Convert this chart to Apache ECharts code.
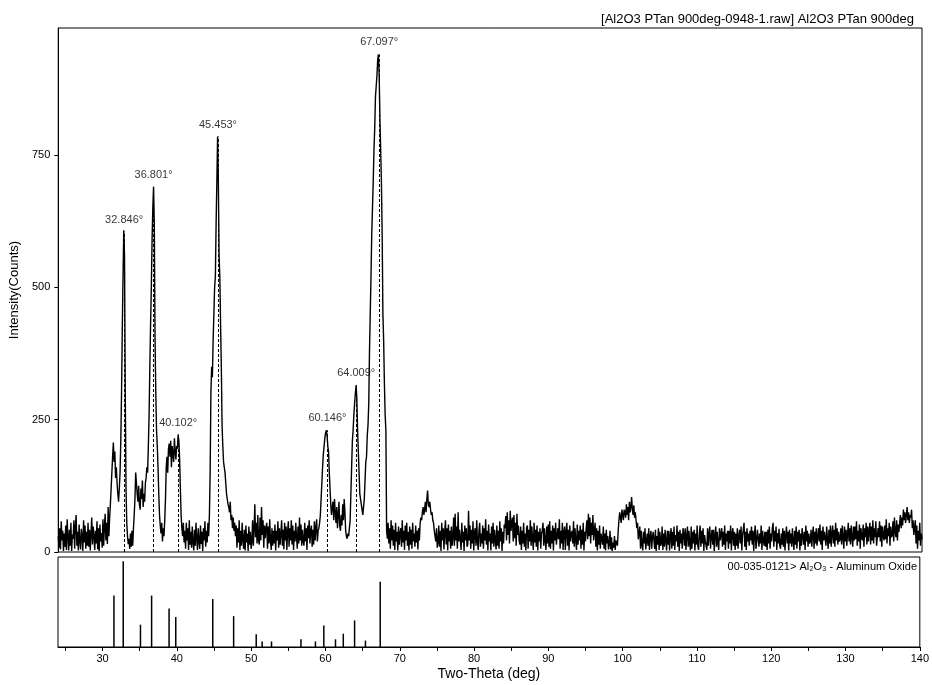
<!DOCTYPE html>
<html>
<head>
<meta charset="utf-8">
<script src="https://cdn.jsdelivr.net/npm/echarts@6/dist/echarts.min.js"></script>
<style>html,body{margin:0;padding:0;background:#fff}#c{width:932px;height:685px}</style>
</head>
<body>
<div id="c"></div>
<script>
// Scan: 2-theta from 24.0 deg, one row per whole degree, 10 readings per row (step 0.1 deg)
const scanStart = 24;
const scanStep = 0.1;
const countsByDegree = [
  [30,8,45,5,58,22,40,2,35,10],             // 24
  [50,4,62,28,3,42,12,55,2,33],             // 25
  [25,60,6,48,70,12,38,3,52,20],            // 26
  [5,44,30,2,60,18,50,6,38,12],             // 27
  [55,10,42,3,35,65,14,48,30,4],            // 28
  [40,16,58,5,45,2,52,20,36,8],             // 29
  [62,12,48,72,22,55,15,85,30,65],          // 30
  [90,120,150,180,207,170,190,140,160,130], // 31
  [110,95,120,150,210,300,420,520,608,560], // 32
  [300,120,55,30,15,25,6,35,10,40],         // 33
  [12,45,70,100,150,130,110,95,125,90],     // 34
  [80,120,100,135,85,110,95,130,140,160],   // 35
  [150,200,260,350,430,500,590,650,690,620],// 36
  [400,300,230,200,160,110,70,50,35,55],    // 37
  [20,45,30,60,100,160,180,150,195,205],    // 38
  [180,210,160,200,185,170,215,190,175,200],// 39
  [195,222,210,175,120,70,45,30,55,18],     // 40
  [40,6,55,22,45,4,60,14,38,8],             // 41
  [48,18,3,42,12,55,24,4,45,20],            // 42
  [6,50,15,38,2,45,22,58,10,40],            // 43
  [18,55,30,70,150,300,350,330,400,450],    // 44
  [500,520,620,700,785,700,560,520,430,350],// 45
  [240,200,170,160,150,130,110,100,90,85],  // 46
  [75,95,60,70,45,65,40,55,30,50],          // 47
  [8,45,18,60,4,40,12,55,24,6],             // 48
  [42,3,50,18,35,2,48,14,38,6],             // 49
  [20,60,12,45,90,28,55,16,70,22],          // 50
  [14,65,22,85,32,60,8,50,26,45],           // 51
  [55,6,48,16,62,22,4,45,12,40],            // 52
  [16,52,3,40,22,58,8,45,14,35],            // 53
  [60,12,42,5,55,22,48,4,38,58],            // 54
  [10,45,22,60,14,50,4,40,20,55],           // 55
  [28,6,48,16,65,22,52,12,42,20],           // 56
  [12,55,20,45,4,50,26,60,16,40],           // 57
  [50,10,42,14,58,22,45,62,20,40],          // 58
  [45,55,70,100,130,160,185,200,215,225],   // 59
  [230,220,200,190,150,120,90,70,85,95],    // 60
  [60,100,75,55,85,45,70,95,50,40],         // 61
  [70,50,90,60,100,75,40,30,25,35],         // 62
  [30,45,60,110,160,210,230,260,280,300],   // 63
  [315,290,230,190,150,110,100,90,80,70],   // 64
  [85,100,135,170,180,220,240,280,380,450], // 65
  [520,600,650,700,760,800,860,880,900,930],// 66
  [940,900,820,760,700,600,450,400,320,260],// 67
  [230,40,25,55,16,45,6,60,22,50],          // 68
  [12,42,4,55,20,38,3,48,14,35],            // 69
  [45,10,60,18,40,4,50,22,55,12],           // 70
  [38,3,48,14,42,6,55,20,35,10],            // 71
  [50,18,40,5,45,22,55,65,60,75],           // 72
  [85,70,80,95,75,100,116,90,85,95],        // 73
  [80,70,75,60,55,40,30,20,45,8],           // 74
  [18,50,10,40,2,55,22,45,5,38],            // 75
  [60,14,45,3,52,20,40,6,48,12],            // 76
  [28,65,12,72,22,48,6,75,20,42],           // 77
  [40,4,55,18,38,2,50,22,45,10],            // 78
  [14,78,22,50,6,42,16,58,3,36],            // 79
  [45,12,60,20,4,40,55,10,35,16],           // 80
  [50,6,45,22,62,14,40,3,52,20],            // 81
  [35,3,48,16,55,10,42,22,5,50],            // 82
  [12,40,6,58,20,45,2,38,16,52],            // 83
  [45,68,22,75,32,60,16,78,40,55],          // 84
  [65,20,70,26,55,12,72,32,50,22],          // 85
  [14,48,4,40,16,55,10,35,3,45],            // 86
  [50,6,42,20,60,12,48,24,4,55],            // 87
  [18,42,10,50,3,38,20,45,6,35],            // 88
  [40,55,12,45,22,4,48,16,52,10],           // 89
  [58,6,40,16,50,3,45,22,55,14],            // 90
  [12,45,24,62,6,40,16,55,4,38],            // 91
  [48,4,38,55,12,42,3,50,20,35],            // 92
  [40,16,58,10,45,22,4,52,14,40],           // 93
  [22,50,6,42,14,55,3,38,20,45],            // 94
  [60,24,72,30,65,16,55,32,70,22],          // 95
  [20,55,10,45,3,40,14,50,6,35],            // 96
  [38,14,48,6,35,3,42,16,30,5],             // 97
  [14,40,5,28,2,18,8,30,4,22],              // 98
  [20,12,40,60,75,65,55,80,70,60],          // 99
  [80,75,65,90,70,85,60,95,75,85],          // 100
  [104,80,70,88,65,75,60,45,55,24],         // 101
  [22,48,6,40,14,3,38,16,45,5],             // 102
  [2,35,12,45,4,30,40,6,28,38],             // 103
  [35,6,42,2,30,14,45,4,38,12],             // 104
  [16,48,4,35,10,42,20,3,40,14],            // 105
  [40,3,30,45,6,38,12,48,4,32],             // 106
  [20,50,10,38,2,42,16,35,6,45],            // 107
  [35,12,45,4,30,48,10,40,16,3],            // 108
  [48,6,38,16,42,3,35,14,50,10],            // 109
  [4,35,50,10,40,16,45,2,32,20],            // 110
  [20,4,45,12,35,48,6,30,42,14],            // 111
  [42,2,32,48,10,38,16,4,45,22],            // 112
  [22,45,10,38,14,50,4,35,20,40],           // 113
  [6,40,16,50,3,35,45,12,38,4],             // 114
  [35,12,45,6,30,42,16,48,3,32],            // 115
  [42,55,10,38,4,45,20,35,12,40],           // 116
  [22,48,14,40,2,35,50,6,20,42],            // 117
  [45,10,35,16,50,4,40,22,12,38],           // 118
  [10,38,4,42,16,48,6,35,20,45],            // 119
  [55,10,40,20,48,4,36,16,44,12],           // 120
  [6,35,14,45,10,40,3,32,48,16],            // 121
  [38,3,42,16,35,10,45,20,4,40],            // 122
  [14,48,6,38,20,42,3,35,12,45],            // 123
  [45,14,38,4,50,20,40,10,35,16],           // 124
  [20,42,10,35,48,6,38,16,45,12],           // 125
  [10,45,20,52,14,40,4,48,22,38],           // 126
  [40,12,48,24,6,42,16,50,10,35],           // 127
  [50,16,42,10,55,22,45,14,38,20],          // 128
  [24,45,14,50,28,6,48,20,42,12],           // 129
  [12,55,20,45,14,50,28,10,48,22],          // 130
  [48,24,58,12,40,20,52,6,45,28],           // 131
  [22,52,10,45,28,55,14,48,20,40],          // 132
  [55,14,48,22,60,16,45,28,58,12],          // 133
  [14,45,28,58,20,50,10,48,32,22],          // 134
  [50,24,62,16,45,30,55,12,48,28],          // 135
  [32,58,20,65,38,28,60,22,52,38],          // 136
  [55,70,45,65,50,80,60,75,55,70],          // 137
  [85,60,75,55,70,65,80,45,60,32],          // 138
  [45,60,16,50,6,40,22,55,12,35],           // 139
  [24]                                      // 140
];

// Labelled peaks (2-theta, counts)
const peakPositions = [32.846, 36.801, 40.102, 45.453, 60.146, 64.009, 67.097];
const peakHeights   = [605, 690, 222, 785, 230, 315, 940];

// Reference pattern 00-035-0121 Al2O3 (2-theta, relative intensity)
const refPositions   = [31.53, 32.78, 35.1, 36.6, 38.95, 39.85, 44.83, 47.64, 50.68, 51.48, 52.74, 56.7, 58.65, 59.78, 61.35, 62.4, 63.92, 65.38, 67.37];
const refIntensities = [60, 100, 26, 60, 45, 35, 56, 36, 15, 6.5, 6.5, 9, 6.5, 25, 9, 15.5, 31, 7.5, 76];

const xTickLabels = [30, 40, 50, 60, 70, 80, 90, 100, 110, 120, 130, 140];
const xTickMarks  = [25, 30, 35, 40, 45, 50, 55, 60, 65, 70, 75, 80, 85, 90, 95, 100, 105, 110, 115, 120, 125, 130, 135, 140];
const yTickLabels = [0, 250, 500, 750];

const trace = [];
countsByDegree.forEach((row, r) => {
  row.forEach((v, j) => trace.push([+(scanStart + r + j * scanStep).toFixed(1), v]));
});
const peaks = peakPositions.map((p, i) => [p, peakHeights[i]]);
const refs = refPositions.map((p, i) => [p, refIntensities[i]]);

const FONT = '"Liberation Sans", Arial, Helvetica, sans-serif';
const chart = echarts.init(document.getElementById('c'));
chart.setOption({
  animation: false,
  backgroundColor: '#fff',
  textStyle: { fontFamily: FONT, color: '#000' },
  title: [
    { text: '[Al2O3 PTan 900deg-0948-1.raw] Al2O3 PTan 900deg', right: 18, top: 13, padding: 0,
      textStyle: { fontSize: 13, fontWeight: 'normal', color: '#000', fontFamily: FONT } },
    { text: '00-035-0121> Al₂O₃ - Aluminum Oxide', right: 15, top: 561, padding: 0,
      textStyle: { fontSize: 11, fontWeight: 'normal', color: '#000', fontFamily: FONT } }
  ],
  grid: [
    { left: 58, top: 28, width: 864, height: 524, show: true, borderColor: '#000', borderWidth: 1, backgroundColor: 'transparent' },
    { left: 58, top: 557, width: 864, height: 90, show: true, borderColor: '#000', borderWidth: 1, backgroundColor: 'transparent' }
  ],
  xAxis: [
    { type: 'value', gridIndex: 0, min: 24, max: 140,
      axisLine: { show: false }, axisTick: { show: false }, axisLabel: { show: false }, splitLine: { show: false } },
    { type: 'value', gridIndex: 1, min: 24, max: 140,
      name: 'Two-Theta (deg)', nameLocation: 'middle', nameGap: 20,
      nameTextStyle: { fontSize: 14, color: '#000', fontFamily: FONT },
      axisLine: { show: true, lineStyle: { color: '#000', width: 1 } },
      axisTick: { show: true, length: 4, customValues: xTickMarks, lineStyle: { color: '#000' } },
      axisLabel: { fontSize: 11, color: '#000', margin: 6, customValues: xTickLabels, fontFamily: FONT },
      splitLine: { show: false } }
  ],
  yAxis: [
    { type: 'value', gridIndex: 0, min: 0, max: 990,
      name: 'Intensity(Counts)', nameLocation: 'middle', nameGap: 34,
      nameTextStyle: { fontSize: 13, color: '#000', fontFamily: FONT },
      axisLine: { show: true, lineStyle: { color: '#000', width: 1 } },
      axisTick: { show: true, length: 4, customValues: yTickLabels, lineStyle: { color: '#000' } },
      axisLabel: { fontSize: 11, color: '#000', margin: 8, customValues: yTickLabels, fontFamily: FONT },
      splitLine: { show: false } },
    { type: 'value', gridIndex: 1, min: 0, max: 105, show: false, splitLine: { show: false } }
  ],
  series: [
    { name: 'scan', type: 'line', xAxisIndex: 0, yAxisIndex: 0, data: trace,
      showSymbol: false, symbol: 'none', silent: true, z: 3,
      lineStyle: { color: '#000', width: 1.4 } },
    { name: 'peaks', type: 'scatter', xAxisIndex: 0, yAxisIndex: 0, data: peaks,
      symbolSize: 1, itemStyle: { color: 'rgba(0,0,0,0)' }, silent: true, z: 4,
      label: { show: true, position: 'top', distance: 6, fontSize: 11, color: '#000', fontFamily: FONT,
        formatter: p => p.value[0].toFixed(3) + '°' },
      markLine: { silent: true, symbol: ['none', 'none'], animation: false,
        label: { show: false },
        lineStyle: { type: [3, 2], color: '#000', width: 1 },
        emphasis: { disabled: true },
        data: peaks.map(p => [{ coord: [p[0], 0] }, { coord: [p[0], p[1]] }]) } },
    { name: 'reference', type: 'bar', xAxisIndex: 1, yAxisIndex: 1, data: refs,
      barWidth: 1.5, silent: true, itemStyle: { color: '#000' } }
  ]
});
</script>
</body>
</html>
